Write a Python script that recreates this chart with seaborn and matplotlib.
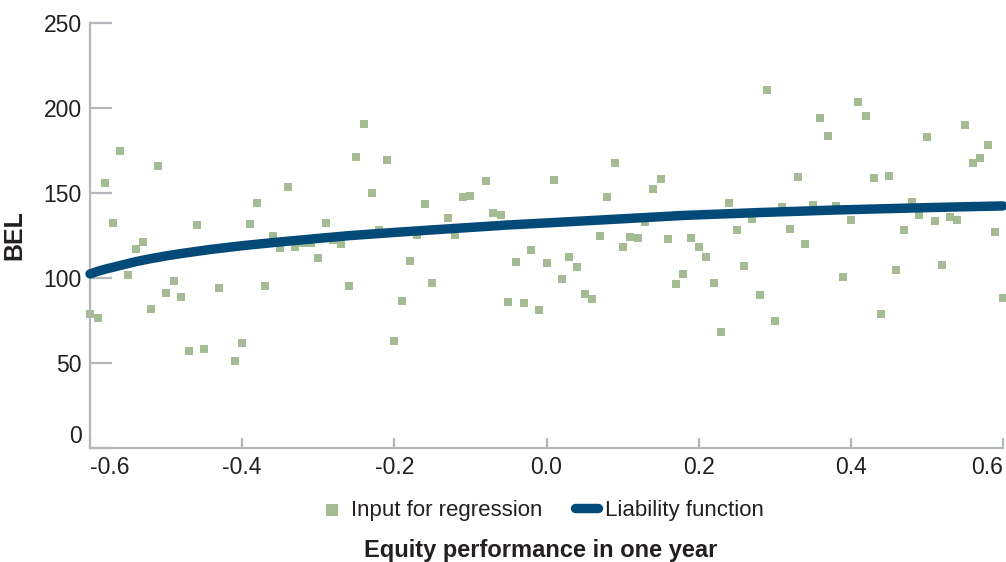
import matplotlib
matplotlib.use('Agg')
import matplotlib.pyplot as plt
import seaborn as sns
import pandas as pd

# puntos de la regresion
eq_perf = [-0.60, -0.59, -0.58, -0.57, -0.56, -0.55, -0.54, -0.53, -0.52, -0.51,
           -0.50, -0.49, -0.48, -0.47, -0.46, -0.45, -0.43, -0.41, -0.40, -0.39,
           -0.38, -0.37, -0.36, -0.35, -0.34, -0.33, -0.32, -0.31, -0.30, -0.29,
           -0.28, -0.27, -0.26, -0.25, -0.24, -0.23, -0.22, -0.21, -0.20, -0.19,
           -0.18, -0.17, -0.16, -0.15, -0.13, -0.12, -0.11, -0.10, -0.08, -0.07,
           -0.06, -0.05, -0.04, -0.03, -0.02, -0.01, 0.00, 0.01, 0.02, 0.03,
           0.04, 0.05, 0.06, 0.07, 0.08, 0.09, 0.10, 0.11, 0.12, 0.13,
           0.14, 0.15, 0.16, 0.17, 0.18, 0.19, 0.20, 0.21, 0.22, 0.23,
           0.24, 0.25, 0.26, 0.27, 0.28, 0.29, 0.30, 0.31, 0.32, 0.33,
           0.34, 0.35, 0.36, 0.37, 0.38, 0.39, 0.40, 0.41, 0.42, 0.43,
           0.44, 0.45, 0.46, 0.47, 0.48, 0.49, 0.50, 0.51, 0.52, 0.53,
           0.54, 0.55, 0.56, 0.57, 0.58, 0.59, 0.60]
bel_points = [79, 76.7, 156, 132.5, 175, 102, 117, 121.4, 82, 166,
              91.4, 98.4, 89, 57.3, 131, 58.4, 94.3, 51.4, 62, 132,
              144.3, 95.5, 124.7, 117.6, 153.7, 118, 120.4, 120.4, 112, 132.5,
              122.5, 120, 95.5, 171.4, 190.8, 150.2, 128.2, 169.6, 63.1, 86.7,
              110.2, 125.3, 143.7, 97.3, 135.5, 125.3, 147.8, 148.4, 157.3, 138.4,
              137.3, 86, 109.6, 85.5, 116.5, 81.4, 109, 157.8, 99.6, 112.5,
              106.7, 90.8, 87.8, 124.9, 147.8, 167.8, 118.4, 124.3, 123.7, 133.1,
              152.5, 158.4, 123.1, 96.6, 102.5, 123.7, 118, 112.5, 97.3, 68.4,
              144.3, 128.4, 107.2, 134.9, 90.2, 210.8, 74.9, 141.6, 129, 159.6,
              120.2, 142.7, 194.3, 183.7, 142.2, 100.8, 134.3, 203.7, 195.5, 159,
              79, 160.2, 104.9, 128.4, 144.5, 137.3, 183.1, 133.7, 107.8, 136.1,
              134.3, 190.2, 167.8, 170.8, 178.4, 127.2, 88.4]

# funcion de pasivos
liab_x = [-0.60, -0.59, -0.58, -0.56, -0.54, -0.52, -0.50, -0.48, -0.44, -0.40,
          -0.36, -0.30, -0.26, -0.20, -0.15, -0.05, 0.05, 0.18, 0.28, 0.38,
          0.50, 0.60]
liab_y = [102.4, 103.9, 105.2, 107.4, 109.6, 111.4, 113.0, 114.4, 116.9, 119.0,
          120.8, 123.3, 124.9, 126.8, 128.3, 131.2, 133.6, 136.8, 138.5, 140.0,
          141.4, 142.4]

x_ticks = [-0.6, -0.4, -0.2, 0.0, 0.2, 0.4, 0.6]
x_tick_labels = ['-0.6', '-0.4', '-0.2', '0.0', '0.2', '0.4', '0.6']
y_ticks = [0, 50, 100, 150, 200, 250]

pts = pd.DataFrame({'x': eq_perf, 'bel': bel_points})
liab = pd.DataFrame({'x': liab_x, 'bel': liab_y})

sns.set_theme(style='white')
plt.rcParams['font.family'] = ['Liberation Sans', 'DejaVu Sans']

text_col = '#231f20'
axis_col = '#b4b8bc'
green = '#a4bc94'
navy = '#034a78'

fig = plt.figure(figsize=(10.06, 5.62), dpi=100)
ax = fig.add_axes([90 / 1006, 114 / 562, 913 / 1006, 425 / 562])

sns.scatterplot(data=pts, x='x', y='bel', ax=ax, marker='s', s=28, color=green,
                linewidth=0, label='Input for regression', clip_on=False, zorder=2)
sns.lineplot(data=liab, x='x', y='bel', ax=ax, color=navy, linewidth=6.8,
             solid_capstyle='round', label='Liability function', zorder=3, clip_on=False)

ax.set_xlim(-0.6, 0.6)
ax.set_ylim(0, 250)
ax.set_xticks(x_ticks)
ax.set_xticklabels(x_tick_labels)
ax.set_yticks(y_ticks)

for s in ['top', 'right']:
    ax.spines[s].set_visible(False)
for s in ['left', 'bottom']:
    ax.spines[s].set_color(axis_col)
    ax.spines[s].set_linewidth(1.6)

ax.tick_params(axis='y', direction='in', length=16, width=1.6, color=axis_col,
               labelsize=16.5, labelcolor=text_col, pad=6, left=True)
ax.tick_params(axis='x', direction='in', length=7, width=1.6, color=axis_col,
               labelsize=16.5, labelcolor=text_col, pad=6, bottom=True)

xl = ax.get_xticklabels()
xl[0].set_horizontalalignment('left')
xl[-1].set_horizontalalignment('right')
ax.get_yticklabels()[0].set_verticalalignment('bottom')

ax.set_xlabel('')
ax.set_ylabel('BEL', fontsize=18, fontweight='bold', color=text_col, labelpad=12)
fig.text(541 / 1006, 1 - 550 / 562, 'Equity performance in one year', ha='center', va='center',
         fontsize=17, fontweight='bold', color=text_col)

ax.legend(loc='center', bbox_to_anchor=(0.4956, -0.146), ncol=2, frameon=False,
          fontsize=16, handlelength=1.0, handletextpad=0.35, columnspacing=1.5,
          labelcolor=text_col, markerscale=1.5)

plt.savefig('out.png', dpi=100)
plt.close()
